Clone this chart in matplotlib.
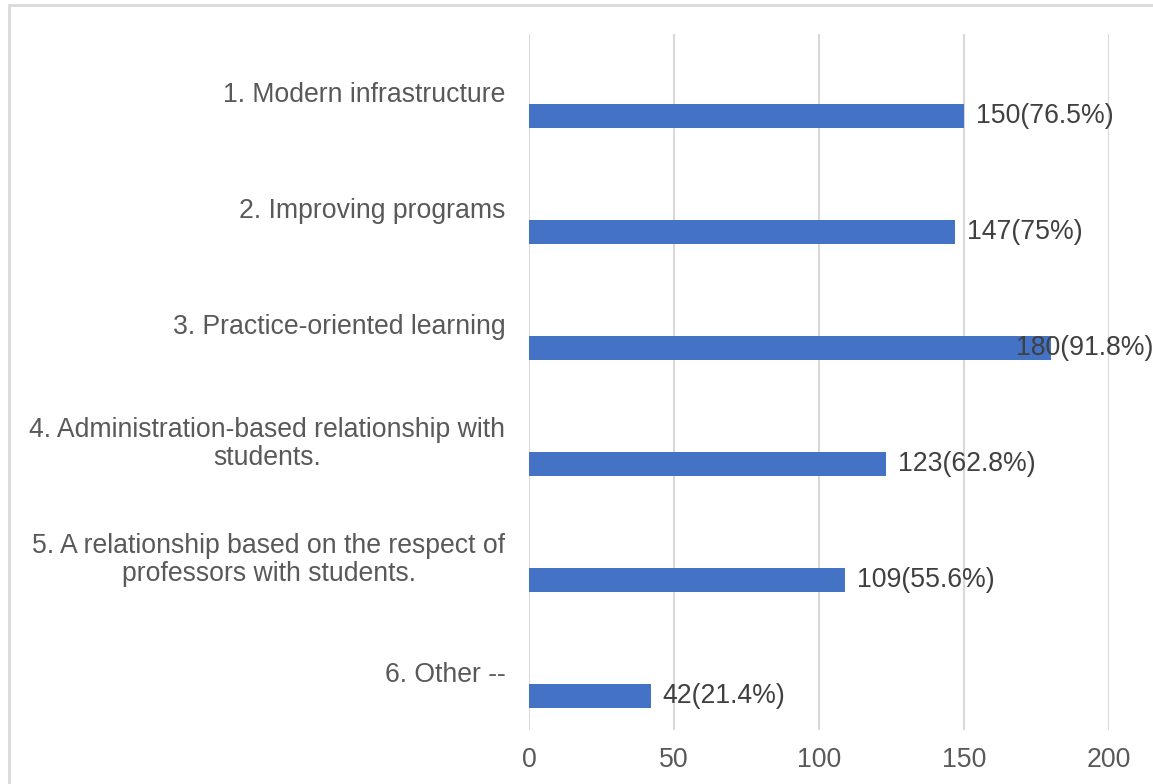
import matplotlib.pyplot as plt
import matplotlib.patches as mpatches
import numpy as np

categories = [
    '1. Modern infrastructure',
    '2. Improving programs',
    '3. Practice-oriented learning',
    '4. Administration-based relationship with\nstudents.',
    '5. A relationship based on the respect of\nprofessors with students.',
    '6. Other --',
]
counts = [150, 147, 180, 123, 109, 42]
labels = ['150(76.5%)', '147(75%)', '180(91.8%)', '123(62.8%)', '109(55.6%)', '42(21.4%)']
xticks = [0, 50, 100, 150, 200]

plt.rcParams['font.family'] = ['Liberation Sans', 'DejaVu Sans']

fig = plt.figure(figsize=(11.53, 7.84), dpi=100)
fig.patch.set_facecolor('white')

# light frame like the Excel chart area (cut at right/bottom)
frame = mpatches.Rectangle((9 / 1153, -0.05), 1.2, 1 - 5 / 784 + 0.05,
                           transform=fig.transFigure, fill=False,
                           edgecolor='#d9d9d9', linewidth=2.0)
fig.patches.append(frame)

ax = fig.add_axes([529 / 1153, 1 - 730 / 784, (1109 - 529) / 1153, (730 - 34) / 784])

y = np.arange(len(categories))
bar_h = 0.207
ax.barh(y + 0.1035 + bar_h / 2, counts, height=bar_h, color='#4472C4', zorder=3)

ax.set_xlim(0, 200)
ax.set_ylim(len(categories) - 0.5, -0.5)
ax.set_xticks(xticks)
ax.set_yticks(y)
ax.set_yticklabels(categories, fontsize=19.2, color='#595959', linespacing=1.1)
ax.tick_params(axis='y', length=0, pad=17)
ax.tick_params(axis='x', length=0, pad=12.5, labelsize=19.2, labelcolor='#595959')
ax.xaxis.grid(True, color='#d9d9d9', linewidth=1.5, zorder=0)
for s in ax.spines.values():
    s.set_visible(False)

for yi, c, lab in zip(y, counts, labels):
    yc = yi + 0.1035 + bar_h / 2
    if c > 170:
        # Excel pushes the label back inside the chart area
        ax.annotate(lab, xy=(1.0, yc), xycoords=('axes fraction', 'data'),
                    xytext=(44, 0), textcoords='offset pixels',
                    ha='right', va='center', fontsize=19.2, color='#404040',
                    annotation_clip=False, zorder=4)
    else:
        ax.annotate(lab, xy=(c, yc), xytext=(12, 0), textcoords='offset pixels',
                    ha='left', va='center', fontsize=19.2, color='#404040', zorder=4)

# multi-line labels centred within their block
for t in ax.get_yticklabels():
    t.set_multialignment('center')

fig.savefig('out.png', dpi=100, facecolor='white')
